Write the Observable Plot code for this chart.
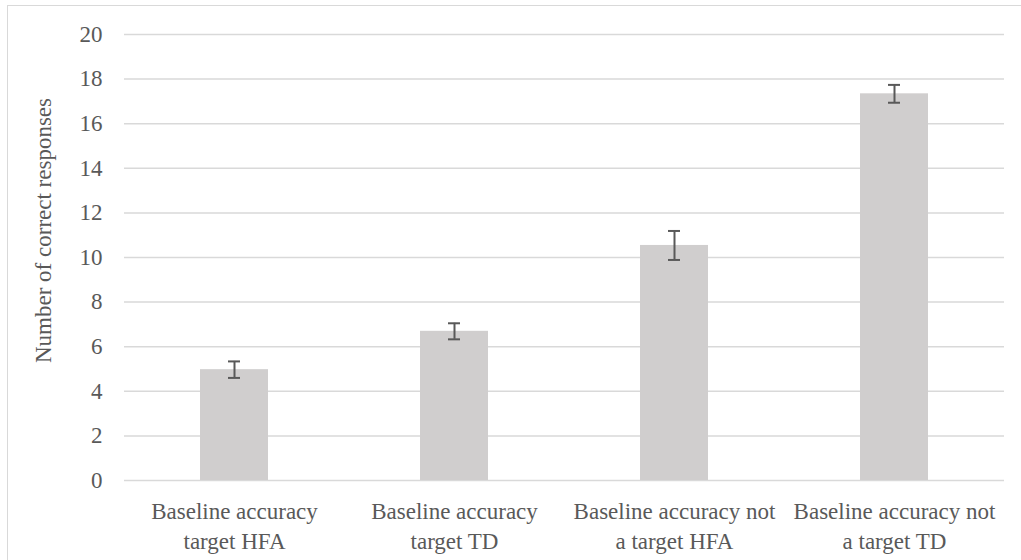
<!DOCTYPE html>
<html>
<head>
<meta charset="utf-8">
<script src="https://cdn.jsdelivr.net/npm/d3@7"></script>
<script src="https://cdn.jsdelivr.net/npm/@observablehq/plot@0.6"></script>
<style>
  html, body { margin: 0; padding: 0; background: #fff; overflow: hidden; }
  #wrap { position: relative; width: 1021px; height: 560px; overflow: hidden; }
  #frame { position: absolute; left: 7px; top: 5px; width: 1100px; height: 700px; border: 1px solid #d9d9d9; box-sizing: border-box; pointer-events: none; }
  svg { display: block; }
</style>
</head>
<body>
<div id="wrap"><div id="frame"></div></div>
<script>
const categories = [
  "Baseline accuracy target HFA",
  "Baseline accuracy target TD",
  "Baseline accuracy not a target HFA",
  "Baseline accuracy not a target TD"
];
const tickLabels = [
  "Baseline accuracy\ntarget HFA",
  "Baseline accuracy\ntarget TD",
  "Baseline accuracy not\na target HFA",
  "Baseline accuracy not\na target TD"
];
const means = [4.97, 6.69, 10.54, 17.34];
const errors = [0.37, 0.36, 0.65, 0.40];
const yTicks = [0, 2, 4, 6, 8, 10, 12, 14, 16, 18, 20];
const yTitle = "Number of correct responses";

const data = categories.map((c, i) => ({cat: c, mean: means[i], err: errors[i]}));
const labelOf = new Map(categories.map((c, i) => [c, tickLabels[i]]));

const textColor = "#595959";
const chart = Plot.plot({
  width: 1021,
  height: 560,
  marginLeft: 124,
  marginRight: 17,
  marginTop: 34,
  marginBottom: 80,
  style: {fontFamily: "'Liberation Serif', 'Times New Roman', serif", fontSize: "23px", color: textColor, background: "transparent"},
  x: {domain: categories, paddingInner: 0.69, paddingOuter: 0.345, label: null},
  y: {domain: [0, 20], label: null},
  marks: [
    Plot.gridY(yTicks, {stroke: "#d9d9d9", strokeOpacity: 1, strokeWidth: 1.5}),
    Plot.barY(data, {x: "cat", y: "mean", fill: "#d0cece"}),
    Plot.ruleX(data, {x: "cat", y1: d => d.mean - d.err, y2: d => d.mean + d.err, stroke: "#595959", strokeWidth: 2}),
    Plot.tickY(data, {x: "cat", y: d => d.mean + d.err, stroke: "#595959", strokeWidth: 2, insetLeft: 28, insetRight: 28}),
    Plot.tickY(data, {x: "cat", y: d => d.mean - d.err, stroke: "#595959", strokeWidth: 2, insetLeft: 28, insetRight: 28}),
    Plot.axisY({ticks: yTicks, tickSize: 0, tickPadding: 22, fontSize: 23, fill: textColor, label: null}),
    Plot.axisX({tickSize: 0, tickPadding: 17, fontSize: 23, lineHeight: 1.3, fill: textColor, tickFormat: d => labelOf.get(d), label: null}),
    Plot.text([yTitle], {frameAnchor: "left", textAnchor: "middle", dx: -81, dy: -27, rotate: -90, fontSize: 23, fill: textColor, text: d => d})
  ]
});
document.getElementById("wrap").appendChild(chart);
</script>
</body>
</html>
